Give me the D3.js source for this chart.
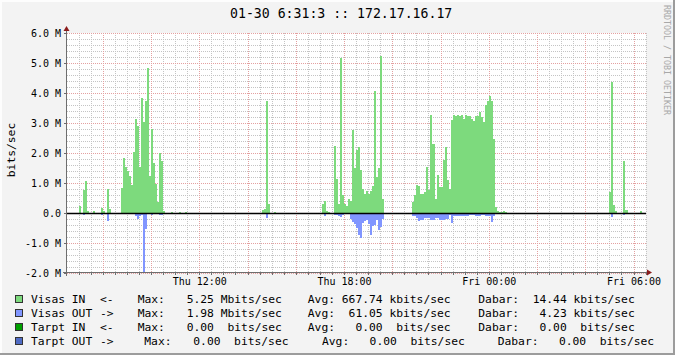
<!DOCTYPE html>
<html>
<head>
<meta charset="utf-8">
<script src="https://cdn.jsdelivr.net/npm/d3@7"></script>
<style>
html,body{margin:0;padding:0;background:#f3f3f3;}
svg{display:block;}
text{font-family:"DejaVu Sans Mono",monospace;}
</style>
</head>
<body>
<div id="chart"></div>
<script>
// RRD traffic graph, 24h, 5 minute samples (values in Mbit/s)
const graphTitle = '01-30 6:31:3 :: 172.17.16.17';
const graphStart = new Date(2014,0,30,6,31);
const graphEnd = new Date(2014,0,31,6,31);
const sampleStart = new Date(2014,0,30,6,35);
const stepMinutes = 5;

// one row = one hour (12 samples)
const inMbits = [
  0,0,0,0,0,0.23,0,0.77,1.07,0.07,0,0,
  0.07,0,0,0,0.16,0.08,0,0.8,0.13,0,0,0,
  0,0,0.83,1.85,1.55,1.41,1.25,0.94,2.04,3.15,2.89,1.55,
  3.85,3.04,3.72,4.84,1.25,2.79,1.68,0.95,0.37,1.99,1.74,0.07,
  0,0,0,0.04,0,0,0,0.04,0,0,0.04,0,
  0,0,0,0,0,0,0,0,0,0,0,0,
  0,0,0,0,0,0,0,0,0,0,0,0,
  0,0,0,0,0,0,0,0,0,0,0,0,
  0.09,0.15,3.74,0.31,0,0,0.05,0,0,0,0,0,
  0,0,0,0,0,0,0,0,0,0,0,0,
  0,0,0,0,0,0,0.31,0.41,0.07,0.03,0,0,
  2.22,1.13,0.3,5.18,0.59,0.3,0.23,0.47,0.39,2.78,1.5,2.09,
  2.19,1.44,0.8,0.64,0.75,0.64,0.73,0.91,4.06,1.19,1.5,5.25,
  0.47,0,0,0,0,0,0,0,0,0,0,0,
  0,0,0,0.36,0.61,0.94,0.91,0.64,0.64,0.69,1.52,0.76,
  3.28,2.31,0.47,1.28,0.86,0.86,1.78,2.19,1.11,0.8,3.11,3.26,
  3.22,3.26,3.22,3.27,3.14,3.26,3.22,3.22,3.14,3.08,3.22,3.22,
  3.36,3.2,3.02,3.59,3.72,3.89,3.72,2.47,0.2,0.06,0.04,0.04,
  0.08,0.05,0,0,0,0,0,0,0,0,0,0,
  0,0,0,0,0,0,0,0,0,0,0,0,
  0,0,0,0,0,0,0,0,0,0,0,0,
  0,0,0,0,0,0,0,0,0,0,0,0,
  0,0,0,0,0,0.7,4.37,0.28,0.06,0,0,0,
  1.74,0.11,0,0,0,0,0,0,0.08,0,0,0
];
const outMbits = [
  0,0,0,0,0,0.03,0,0.08,0.03,0,0,0,
  0,0,0,0,0.07,0,0,0.26,0.03,0,0,0,
  0,0,0.03,0.03,0.03,0.03,0.03,0.03,0.05,0.1,0.19,0.1,
  0.08,1.98,0.53,0.05,0.05,0.08,0,0,0,0.07,0.07,0,
  0,0,0,0,0,0,0,0,0,0,0,0,
  0,0,0,0,0,0,0,0,0,0,0,0,
  0,0,0,0,0,0,0,0,0,0,0,0,
  0,0,0,0,0,0,0,0,0,0,0,0,
  0,0,0.15,0.03,0,0,0,0,0,0,0,0,
  0,0,0,0,0,0,0,0,0,0,0,0,
  0,0,0,0,0,0,0,0.11,0,0.05,0,0,
  0.08,0.08,0.11,0.14,0.06,0.03,0.03,0.03,0.2,0.3,0.38,0.5,
  0.72,0.82,0.33,0.25,0.22,0.35,0.74,0.42,0.39,0.22,0.56,0.45,
  0.2,0,0,0,0,0,0,0,0,0,0,0,
  0,0,0,0.09,0.09,0.17,0.26,0.22,0.22,0.17,0.17,0.17,
  0.22,0.22,0.17,0.17,0.24,0.24,0.24,0.19,0.19,0.08,0.33,0.11,
  0.11,0.11,0.09,0.09,0.09,0.09,0.09,0.07,0.07,0.07,0.09,0.09,
  0.11,0.07,0.07,0.11,0.09,0.09,0.3,0.09,0,0,0,0,
  0,0,0,0,0,0,0,0,0,0,0,0,
  0,0,0,0,0,0,0,0,0,0,0,0,
  0,0,0,0,0,0,0,0,0,0,0,0,
  0,0,0,0,0,0,0,0,0,0,0,0,
  0,0,0,0,0,0,0.12,0,0,0,0,0,
  0.06,0,0,0,0,0,0,0,0,0,0,0
];

const yTicks = [-2,-1,0,1,2,3,4,5,6];
const yTickLabels = ['-2.0 M','-1.0 M','0.0','1.0 M','2.0 M','3.0 M','4.0 M','5.0 M','6.0 M'];
const xTicks = [new Date(2014,0,30,12), new Date(2014,0,30,18), new Date(2014,0,31,0), new Date(2014,0,31,6)];
const xTickLabels = ['Thu 12:00','Thu 18:00','Fri 00:00','Fri 06:00'];

const legendNames = ['Visas IN','Visas OUT','Tarpt IN','Tarpt OUT'];
const legendArrows = ['<-','->','<-','->'];
const legendMax = ['5.25 Mbits/sec','1.98 Mbits/sec','0.00  bits/sec','0.00  bits/sec'];
const legendAvg = ['667.74 kbits/sec',' 61.05 kbits/sec','  0.00  bits/sec','  0.00  bits/sec'];
const legendCur = [' 14.44 kbits/sec','  4.23 kbits/sec','  0.00  bits/sec','  0.00  bits/sec'];
const legendColors = ['#7dda7d','#8196ff','#00a000','#4f6bc4'];

const W = 675, H = 355;
const plot = {left:67, right:646, top:33, bottom:273};

const svg = d3.select('#chart').append('svg').attr('width',W).attr('height',H);

// frame
svg.append('rect').attr('width',W).attr('height',H).attr('fill','#f3f3f3');
svg.append('path').attr('d',`M0,1H${W}M1,0V${H}`).attr('stroke','#fdfdfd').attr('stroke-width',2);
svg.append('path').attr('d',`M0,${H-1}H${W}M${W-1},0V${H}`).attr('stroke','#9c9c9c').attr('stroke-width',2);

const x = d3.scaleTime().domain([graphStart,graphEnd]).range([plot.left,plot.right]);
const y = d3.scaleLinear().domain([-2,6]).range([plot.bottom,plot.top]);

// canvas
svg.append('rect').attr('x',plot.left).attr('y',plot.top)
  .attr('width',plot.right-plot.left).attr('height',plot.bottom-plot.top).attr('fill','#fff');

// grid
const grid = svg.append('g').attr('shape-rendering','crispEdges').attr('stroke-dasharray','1,1');
const minorY = d3.range(-20,61,2).map(d=>d/10).filter(d=>d%1!==0);
grid.selectAll('.hmin').data(minorY).enter().append('line')
  .attr('x1',plot.left).attr('x2',plot.right).attr('y1',d=>Math.round(y(d))+0.5).attr('y2',d=>Math.round(y(d))+0.5)
  .attr('stroke','#c4c4c4');
const minorX = d3.timeMinute.every(30).range(graphStart,graphEnd).filter(d=>!(d.getMinutes()===0 && d.getHours()%2===0));
grid.selectAll('.vmin').data(minorX).enter().append('line')
  .attr('x1',d=>Math.round(x(d))+0.5).attr('x2',d=>Math.round(x(d))+0.5).attr('y1',plot.top).attr('y2',plot.bottom)
  .attr('stroke','#c4c4c4');
grid.selectAll('.hmaj').data(yTicks).enter().append('line')
  .attr('x1',plot.left).attr('x2',plot.right).attr('y1',d=>Math.round(y(d))+0.5).attr('y2',d=>Math.round(y(d))+0.5)
  .attr('stroke','#e4a0a0');
const majorX = d3.timeHour.every(2).range(graphStart,graphEnd);
grid.selectAll('.vmaj').data(majorX).enter().append('line')
  .attr('x1',d=>Math.round(x(d))+0.5).attr('x2',d=>Math.round(x(d))+0.5).attr('y1',plot.top).attr('y2',plot.bottom)
  .attr('stroke','#e4a0a0');

// samples
const samples = inMbits.map((v,i)=>{
  const t = d3.timeMinute.offset(sampleStart,i*stepMinutes);
  return {t:t, t2:d3.timeMinute.offset(t,stepMinutes), vin:v, vout:outMbits[i]};
});

svg.append('clipPath').attr('id','clip').append('rect')
  .attr('x',plot.left).attr('y',plot.top).attr('width',plot.right-plot.left).attr('height',plot.bottom-plot.top);
const bars = svg.append('g').attr('clip-path','url(#clip)').attr('shape-rendering','crispEdges');
const y0 = Math.round(y(0));
bars.selectAll('.in').data(samples.filter(d=>d.vin>0)).enter().append('rect')
  .attr('x',d=>Math.round(x(d.t))).attr('width',d=>Math.round(x(d.t2))-Math.round(x(d.t)))
  .attr('y',d=>Math.round(y(d.vin))).attr('height',d=>Math.max(1,y0-Math.round(y(d.vin))))
  .attr('fill',legendColors[0]);
bars.selectAll('.out').data(samples.filter(d=>d.vout>0)).enter().append('rect')
  .attr('x',d=>Math.round(x(d.t))).attr('width',d=>Math.round(x(d.t2))-Math.round(x(d.t)))
  .attr('y',y0).attr('height',d=>Math.max(1,Math.round(y(-d.vout))-y0))
  .attr('fill',legendColors[1]);

// zero line
svg.append('line').attr('x1',plot.left).attr('x2',plot.right).attr('y1',y0+0.5).attr('y2',y0+0.5)
  .attr('stroke','#000').attr('stroke-width',1.3);

// axes lines and arrows
const axisCol = '#6e6e6e';
svg.append('line').attr('x1',66.5).attr('x2',66.5).attr('y1',29).attr('y2',276).attr('stroke',axisCol);
svg.append('line').attr('x1',63).attr('x2',648).attr('y1',272.5).attr('y2',272.5).attr('stroke',axisCol);
svg.append('path').attr('d','M63.5,31L69.5,31L66.5,26Z').attr('fill','#8b1c1c');
svg.append('path').attr('d','M647,269.5L647,275.5L652,272.5Z').attr('fill','#8b1c1c');
// small ticks
svg.append('g').selectAll('line').data(yTicks).enter().append('line')
  .attr('x1',64).attr('x2',66).attr('y1',d=>Math.round(y(d))+0.5).attr('y2',d=>Math.round(y(d))+0.5).attr('stroke',axisCol);
svg.append('g').selectAll('line').data(minorX.concat(majorX)).enter().append('line')
  .attr('x1',d=>Math.round(x(d))+0.5).attr('x2',d=>Math.round(x(d))+0.5).attr('y1',273).attr('y2',275).attr('stroke',axisCol);

// tick labels
const yAxis = d3.axisLeft(y).tickValues(yTicks).tickFormat((d,i)=>yTickLabels[i]).tickSize(0).tickPadding(6);
const gy = svg.append('g').attr('transform',`translate(${plot.left},0)`).call(yAxis);
gy.select('.domain').remove();
gy.selectAll('text').attr('font-family','"DejaVu Sans Mono",monospace').attr('font-size','10px').attr('fill','#000');

const xAxis = d3.axisBottom(x).tickValues(xTicks).tickFormat((d,i)=>xTickLabels[i]).tickSize(0);
const gx = svg.append('g').attr('transform',`translate(0,${plot.bottom})`).call(xAxis);
gx.select('.domain').remove();
gx.selectAll('text').attr('y',12).attr('dy',null)
  .attr('font-family','"DejaVu Sans Mono",monospace').attr('font-size','10px').attr('fill','#000');

// title, axis label, watermark
svg.append('text').attr('x',230).attr('y',18).attr('font-size','13.2px').attr('fill','#000').text(graphTitle);
svg.append('text').attr('transform','translate(15,150) rotate(-90)').attr('text-anchor','middle')
  .attr('font-size','11.3px').attr('fill','#000').text('bits/sec');
svg.append('text').attr('transform','translate(663.5,5) rotate(90)')
  .attr('font-size','8.3px').attr('fill','#a8a8a8').text('RRDTOOL / TOBI OETIKER');

// legend
const legendCols = [31,100,137.7,186.7,307.8,478.3];
const legendColsLast = [31,100,144.3,193.3,322,497.7];
const legendY = [303,317,331,345];
legendNames.forEach((name,i)=>{
  const cols = i===3 ? legendColsLast : legendCols;
  const row = svg.append('g').attr('font-size','11.3px').attr('fill','#000');
  row.append('rect').attr('x',15.5).attr('y',legendY[i]-7.5).attr('width',7).attr('height',7)
    .attr('fill',legendColors[i]).attr('stroke','#333').attr('shape-rendering','crispEdges');
  const parts = [name, legendArrows[i], 'Max:', legendMax[i], 'Avg: '+legendAvg[i], 'Dabar: '+legendCur[i]];
  parts.forEach((p,j)=>{
    row.append('text').attr('xml:space','preserve').style('white-space','pre')
      .attr('x',cols[j]).attr('y',legendY[i]).text(p);
  });
});
</script>
</body>
</html>
